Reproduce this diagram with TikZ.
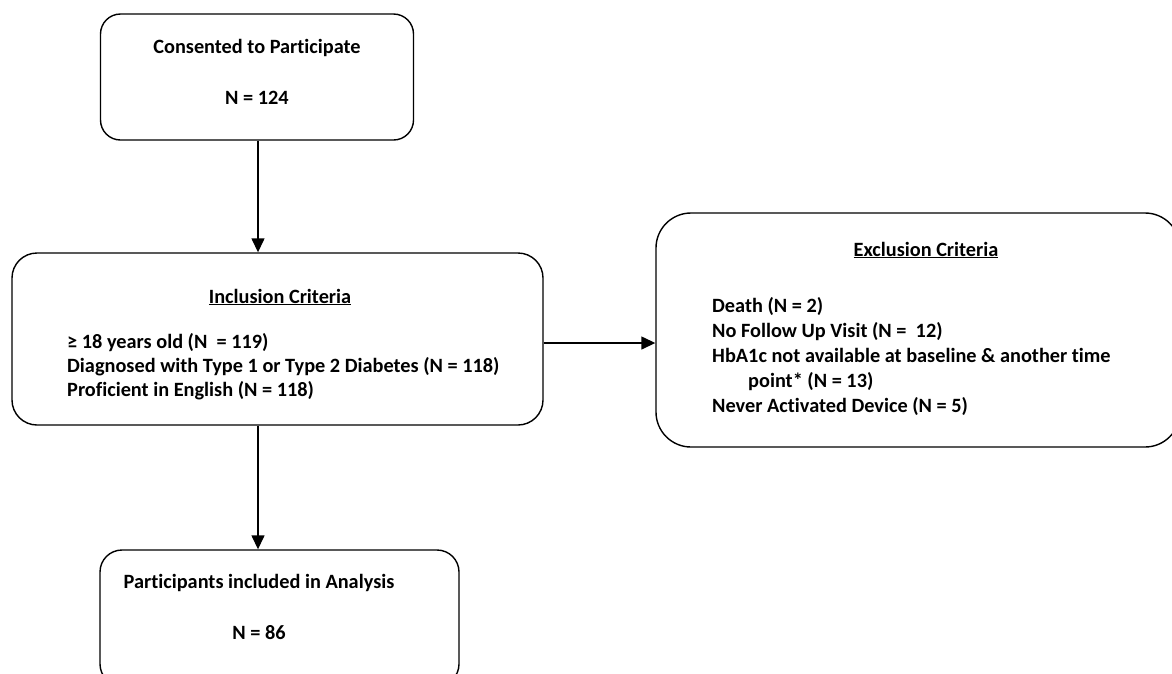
\documentclass[tikz,border=0pt]{standalone}
\usepackage{fontspec}
\setmainfont{Carlito}[Ligatures={NoCommon}]
\usepackage{tikz}
\usetikzlibrary{calc, arrows.meta, positioning}

\begin{document}
\begin{tikzpicture}[x=1pt, y=-1pt, >={Triangle[width=13pt,length=14pt]},
  font=\fontsize{20.3}{24}\selectfont\bfseries,
  flowbox/.style={draw, line width=1.4pt, rectangle, inner sep=0pt},
  flowarrow/.style={->, line width=1.4pt}]

  \clip (0,0) rectangle (1172,673);
  \useasboundingbox (0,0) rectangle (1172,673);

  % Boxes (frames)
  \node[flowbox, rounded corners=20pt, minimum width=313pt, minimum height=126pt] (consent) at (257,77) {};
  \node[flowbox, rounded corners=25pt, minimum width=531pt, minimum height=172pt] (incl) at (277.5,339) {};
  \node[flowbox, rounded corners=35pt, minimum width=524pt, minimum height=234pt] (excl) at (918,330) {};
  \node[flowbox, rounded corners=22pt, minimum width=359pt, minimum height=136pt] (anal) at (279.5,618) {};

  % Texts
  \node (consentTitle) at (257,48) {Consented to Participate};
  \node (consentN) at (257,98) {N = 124};

  \node (inclTitle) at (280,297) {\underline{Inclusion Criteria}};
  \node[anchor=north west, align=left, inner sep=0pt] (inclList) at (67,333)
    {≥ 18 years old (N~ = 119)\\
     Diagnosed with Type 1 or Type 2 Diabetes (N = 118)\\
     Proficient in English (N = 118)};

  \node (exclTitle) at (926,250) {\underline{Exclusion Criteria}};
  \node[anchor=north west, align=left, inner sep=0pt, font=\fontsize{20.3}{25}\selectfont\bfseries] (exclList) at (712,297)
    {Death (N = 2)\\
     No Follow Up Visit (N =~ 12)\\
     HbA1c not available at baseline \& another time\\
     \hspace*{36pt}point* (N = 13)\\
     Never Activated Device (N = 5)};

  \node (analTitle) at (259,583) {Participants included in Analysis};
  \node (analN) at (259,633) {N = 86};

  % Connectors
  \coordinate (drop) at (258,0);
  \draw[flowarrow] (drop |- consent.south) -- (drop |- incl.north);
  \draw[flowarrow] (drop |- incl.south) -- (drop |- anal.north);
  \draw[flowarrow] ($(incl.east)+(0,4)$) -- ($(incl.east -| excl.west)+(0,4)$);
\end{tikzpicture}
\end{document}
